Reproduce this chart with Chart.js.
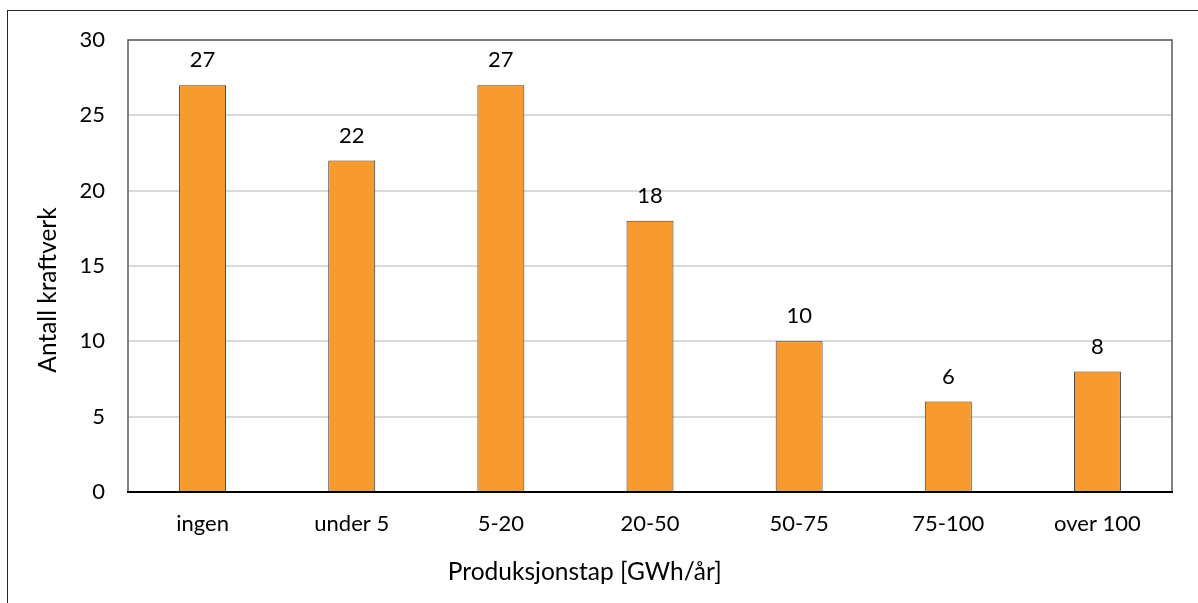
<!DOCTYPE html>
<html>
<head>
<meta charset="utf-8">
<script src="https://cdn.jsdelivr.net/npm/chart.js@4.4.1/dist/chart.umd.min.js"></script>
<style>
  html, body { margin: 0; padding: 0; background: #fff; }
  #wrap { width: 1198px; height: 603px; position: relative; }
</style>
</head>
<body>
<div id="wrap"><canvas id="c" width="1198" height="603"></canvas></div>
<script>
// Produksjonstap per kraftverk, gruppert
const categories = ['ingen', 'under 5', '5-20', '20-50', '50-75', '75-100', 'over 100'];
const antall = [27, 22, 27, 18, 10, 6, 8];
const yTicks = [0, 5, 10, 15, 20, 25, 30];

const xTitle = 'Produksjonstap [GWh/år]';
const yTitle = 'Antall kraftverk';

const FONT = 'Lato, "Liberation Sans", sans-serif';

// Ramme rundt figuren, plottområdet, aksetitler og verdietiketter
const decorations = {
  id: 'decorations',
  beforeDraw(chart) {
    const ctx = chart.ctx;
    ctx.save();
    ctx.strokeStyle = '#262626';
    ctx.lineWidth = 1;
    ctx.strokeRect(7.5, 10.5, chart.width + 20, chart.height + 20);
    ctx.restore();
  },
  afterDatasetsDraw(chart) {
    const ctx = chart.ctx;
    const a = chart.chartArea;
    ctx.save();
    // plottområdets ramme
    ctx.strokeStyle = '#595959';
    ctx.lineWidth = 1.5;
    ctx.beginPath();
    ctx.moveTo(a.left, a.bottom);
    ctx.lineTo(a.left, a.top);
    ctx.lineTo(a.right, a.top);
    ctx.lineTo(a.right, a.bottom);
    ctx.stroke();
    ctx.strokeStyle = '#000';
    ctx.lineWidth = 2;
    ctx.beginPath();
    ctx.moveTo(a.left - 1, a.bottom);
    ctx.lineTo(a.right + 1, a.bottom);
    ctx.stroke();

    // verdietiketter over søylene
    ctx.fillStyle = '#000';
    ctx.font = '22px ' + FONT;
    ctx.textAlign = 'center';
    ctx.textBaseline = 'middle';
    const meta = chart.getDatasetMeta(0);
    meta.data.forEach((bar, i) => {
      ctx.fillText(String(antall[i]), bar.x, bar.y - 25);
    });

    // aksetitler
    ctx.font = '24.5px ' + FONT;
    ctx.fillText(xTitle, a.left + (a.right - a.left) * 0.4375, 572);
    ctx.translate(48, a.top + (a.bottom - a.top) * 0.553);
    ctx.rotate(-Math.PI / 2);
    ctx.fillText(yTitle, 0, 0);
    ctx.restore();
  }
};

new Chart(document.getElementById('c'), {
  type: 'bar',
  data: {
    labels: categories,
    datasets: [{
      data: antall,
      backgroundColor: '#F79A2F',
      borderColor: '#3a3a3a',
      borderWidth: 1,
      barPercentage: 0.315,
      categoryPercentage: 1
    }]
  },
  options: {
    responsive: false,
    animation: false,
    devicePixelRatio: 1,
    layout: { padding: { left: 0, top: 40, right: 26, bottom: 0 } },
    plugins: {
      legend: { display: false },
      tooltip: { enabled: false }
    },
    scales: {
      x: {
        grid: { display: false, drawTicks: false },
        border: { display: false },
        ticks: { color: '#000', font: { family: FONT, size: 22 }, padding: 19, maxRotation: 0 },
        afterFit(scale) { scale.height = 111; }
      },
      y: {
        min: 0,
        max: 30,
        afterBuildTicks(scale) { scale.ticks = yTicks.map(v => ({ value: v })); },
        grid: { color: '#d9d9d9', lineWidth: 2, drawTicks: false },
        border: { display: false },
        ticks: { color: '#000', font: { family: FONT, size: 22 }, padding: 23 },
        afterFit(scale) { scale.width = 128; }
      }
    }
  },
  plugins: [decorations]
});
</script>
</body>
</html>
